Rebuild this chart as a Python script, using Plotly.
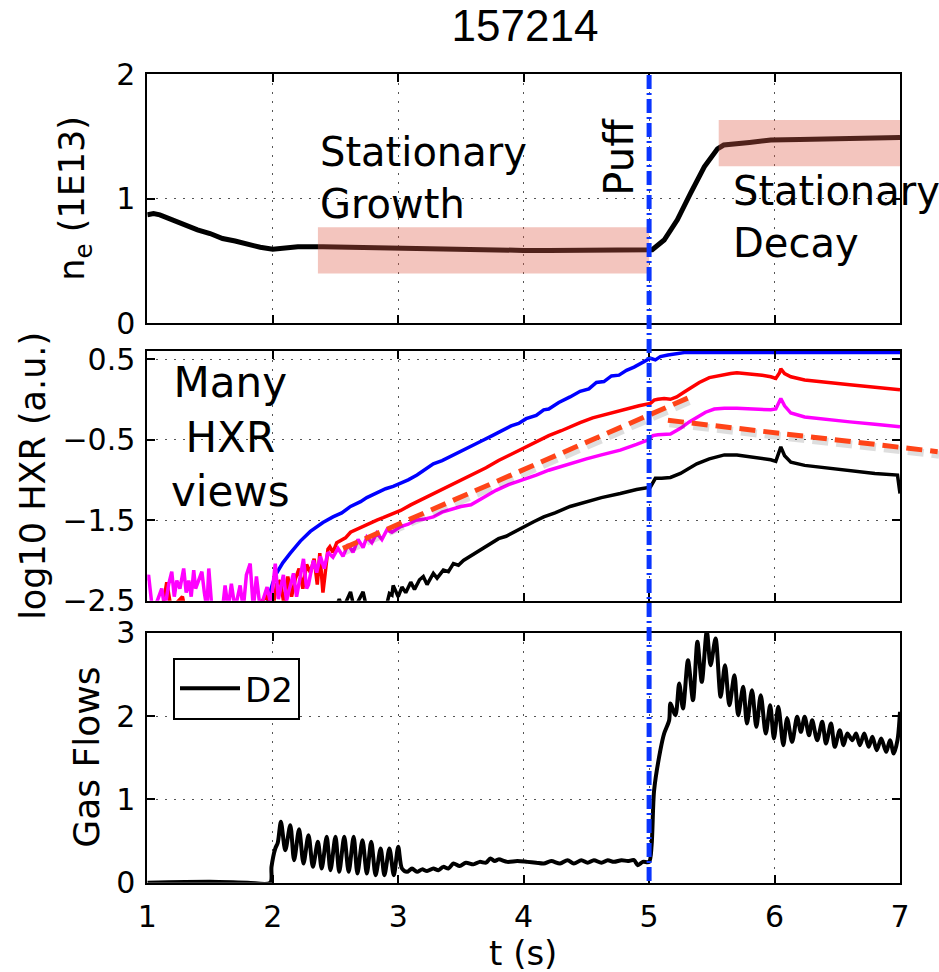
import plotly.graph_objects as go

# ---------------- data ----------------
ne_data = [(1.00, 0.87), (1.05, 0.88), (1.10, 0.87), (1.20, 0.83), (1.30, 0.78), (1.40, 0.75),
           (1.50, 0.72), (1.60, 0.68), (1.70, 0.66), (1.80, 0.63), (1.90, 0.61), (2.00, 0.595),
           (2.10, 0.61), (2.20, 0.615), (2.40, 0.615), (2.60, 0.61), (2.80, 0.605), (3.00, 0.60),
           (3.20, 0.60), (3.40, 0.595), (3.60, 0.59), (3.80, 0.585), (4.00, 0.585), (4.20, 0.585),
           (4.40, 0.585), (4.60, 0.585), (4.80, 0.58), (5.00, 0.585), (5.025, 0.59), (5.12, 0.668),
           (5.225, 0.83), (5.33, 1.043), (5.44, 1.256), (5.545, 1.40), (5.595, 1.43), (5.80, 1.45),
           (5.97, 1.47), (6.20, 1.475), (6.50, 1.484), (6.80, 1.488), (7.00, 1.49)]

hxr_blue = [(1.94, -2.6), (1.97, -2.42), (2.00, -2.28), (2.03, -2.16), (2.08, -2.03), (2.14, -1.91),
            (2.22, -1.76), (2.30, -1.64), (2.40, -1.53), (2.48, -1.46), (2.55, -1.41), (2.62, -1.33),
            (2.70, -1.27), (2.75, -1.22), (2.82, -1.17), (2.90, -1.11), (2.96, -1.08), (3.02, -1.04),
            (3.08, -1.00), (3.15, -0.94), (3.22, -0.86), (3.28, -0.80), (3.35, -0.76), (3.43, -0.70),
            (3.50, -0.64), (3.58, -0.59), (3.66, -0.52), (3.75, -0.45), (3.83, -0.39), (3.90, -0.33),
            (3.96, -0.30), (4.02, -0.24), (4.10, -0.20), (4.16, -0.13), (4.20, -0.12), (4.28, -0.04),
            (4.37, 0.03), (4.45, 0.10), (4.52, 0.13), (4.58, 0.21), (4.64, 0.22), (4.70, 0.29),
            (4.76, 0.30), (4.82, 0.36), (4.88, 0.40), (4.94, 0.45), (5.01, 0.51), (5.05, 0.49),
            (5.09, 0.53), (5.15, 0.55), (5.22, 0.57), (5.28, 0.58), (7.00, 0.58)]

hxr_red = [(1.00, -2.6), (1.12, -2.6), (1.155, -2.27), (1.19, -2.6), (1.28, -2.45), (1.30, -2.6),
           (1.60, -2.6), (1.85, -2.6), (1.95, -2.45), (2.00, -2.6), (2.03, -2.3), (2.06, -2.25),
           (2.09, -2.55), (2.12, -2.2), (2.15, -2.45), (2.18, -2.23), (2.21, -2.1), (2.24, -2.35),
           (2.27, -2.05), (2.30, -2.15), (2.33, -1.98), (2.355, -2.3), (2.375, -1.91), (2.40, -2.4),
           (2.415, -2.2), (2.44, -1.86), (2.455, -1.83), (2.48, -1.9), (2.51, -1.78), (2.55, -1.75),
           (2.58, -1.72), (2.62, -1.65), (2.66, -1.62), (2.70, -1.60), (2.74, -1.56), (2.78, -1.54),
           (2.83, -1.50), (2.88, -1.47), (2.94, -1.43), (3.02, -1.38), (3.10, -1.31), (3.18, -1.25),
           (3.28, -1.17), (3.38, -1.10), (3.48, -1.02), (3.58, -0.95), (3.70, -0.85), (3.80, -0.76),
           (3.90, -0.68), (4.00, -0.61), (4.10, -0.53), (4.20, -0.45), (4.30, -0.39), (4.37, -0.34),
           (4.45, -0.29), (4.55, -0.23), (4.69, -0.17), (4.80, -0.13), (4.92, -0.08), (5.01, -0.05),
           (5.04, -0.01), (5.07, 0.00), (5.12, 0.01), (5.17, 0.00), (5.22, 0.03), (5.28, 0.09),
           (5.33, 0.14), (5.40, 0.21), (5.48, 0.27), (5.57, 0.30), (5.65, 0.32), (5.70, 0.33),
           (5.80, 0.32), (5.90, 0.30), (5.97, 0.28), (6.01, 0.26), (6.04, 0.33), (6.05, 0.38),
           (6.08, 0.32), (6.13, 0.28), (6.24, 0.24), (6.40, 0.21), (6.60, 0.18), (6.80, 0.15),
           (7.00, 0.12)]

hxr_magenta = [(1.00, -2.25), (1.01, -2.18), (1.04, -2.6), (1.08, -2.5), (1.115, -2.35), (1.14, -2.6),
               (1.17, -2.3), (1.195, -2.14), (1.215, -2.45), (1.235, -2.25), (1.26, -2.35), (1.29, -2.10),
               (1.31, -2.4), (1.33, -2.25), (1.35, -2.45), (1.37, -2.12), (1.385, -2.35), (1.42, -2.2),
               (1.435, -2.14), (1.455, -2.4), (1.475, -2.6), (1.49, -2.10), (1.515, -2.6), (1.60, -2.6),
               (1.62, -2.31), (1.645, -2.6), (1.67, -2.29), (1.70, -2.6), (1.74, -2.31), (1.765, -2.6),
               (1.79, -2.18), (1.82, -2.04), (1.845, -2.6), (1.87, -2.2), (1.90, -2.6), (1.93, -2.45),
               (1.955, -2.33), (1.985, -2.55), (2.02, -2.04), (2.045, -2.48), (2.065, -2.3), (2.085, -2.18),
               (2.11, -2.5), (2.14, -2.3), (2.165, -2.16), (2.19, -2.45), (2.22, -2.2), (2.245, -1.98),
               (2.27, -2.35), (2.285, -2.3), (2.31, -2.1), (2.325, -2.0), (2.35, -2.15), (2.38, -1.95),
               (2.41, -2.1), (2.44, -1.9), (2.48, -1.96), (2.52, -1.85), (2.56, -1.95), (2.60, -1.80),
               (2.64, -1.90), (2.68, -1.74), (2.72, -1.84), (2.75, -1.71), (2.79, -1.78), (2.83, -1.66),
               (2.87, -1.74), (2.91, -1.62), (2.95, -1.65), (3.02, -1.58), (3.08, -1.55), (3.14, -1.50),
               (3.20, -1.49), (3.28, -1.46), (3.35, -1.40), (3.42, -1.37), (3.50, -1.33), (3.58, -1.31),
               (3.68, -1.22), (3.78, -1.13), (3.88, -1.06), (4.00, -1.00), (4.10, -0.94), (4.20, -0.88),
               (4.30, -0.83), (4.37, -0.80), (4.50, -0.74), (4.62, -0.69), (4.77, -0.63), (4.90, -0.56),
               (5.00, -0.50), (5.03, -0.45), (5.07, -0.44), (5.17, -0.43), (5.25, -0.36), (5.32, -0.28),
               (5.38, -0.22), (5.45, -0.16), (5.52, -0.12), (5.60, -0.11), (5.70, -0.11), (5.80, -0.12),
               (5.90, -0.13), (5.97, -0.13), (6.01, -0.12), (6.03, -0.05), (6.05, 0.01), (6.08, -0.08),
               (6.13, -0.17), (6.24, -0.22), (6.40, -0.25), (6.60, -0.28), (6.80, -0.31), (7.00, -0.34)]

hxr_black = [(2.45, -2.6), (2.50, -2.6), (2.53, -2.48), (2.56, -2.6), (2.62, -2.39), (2.65, -2.6),
             (2.72, -2.39), (2.75, -2.6), (2.90, -2.6), (2.93, -2.41), (2.95, -2.43), (2.96, -2.31),
             (3.00, -2.45), (3.03, -2.33), (3.06, -2.4), (3.10, -2.27), (3.13, -2.36), (3.17, -2.24),
             (3.20, -2.20), (3.23, -2.3), (3.28, -2.16), (3.31, -2.22), (3.36, -2.12), (3.40, -2.14),
             (3.44, -2.04), (3.48, -2.06), (3.52, -2.00), (3.58, -1.94), (3.65, -1.87), (3.72, -1.80),
             (3.80, -1.73), (3.86, -1.70), (3.93, -1.64), (4.00, -1.58), (4.08, -1.52), (4.16, -1.46),
             (4.25, -1.41), (4.37, -1.33), (4.50, -1.27), (4.62, -1.22), (4.77, -1.17), (4.90, -1.12),
             (5.01, -1.09), (5.05, -0.98), (5.10, -0.98), (5.17, -0.97), (5.25, -0.92), (5.32, -0.85),
             (5.38, -0.80), (5.48, -0.74), (5.60, -0.69), (5.70, -0.69), (5.80, -0.71), (5.90, -0.73),
             (5.97, -0.75), (6.01, -0.77), (6.03, -0.68), (6.05, -0.59), (6.08, -0.70), (6.13, -0.78),
             (6.24, -0.82), (6.40, -0.85), (6.60, -0.89), (6.80, -0.92), (6.98, -0.94), (7.00, -1.17)]

gas_d2 = [(1.00, 0.0), (1.50, 0.01), (1.80, 0.0), (1.98, 0.0), (1.99, 0.19), (2.02, 0.41), (2.04, 0.48),
          (2.065, 0.73), (2.10, 0.39), (2.14, 0.69), (2.17, 0.27), (2.21, 0.64), (2.245, 0.23),
          (2.285, 0.57), (2.32, 0.19), (2.36, 0.49), (2.39, 0.17), (2.43, 0.55), (2.46, 0.15),
          (2.50, 0.55), (2.53, 0.13), (2.57, 0.55), (2.605, 0.13), (2.645, 0.55), (2.675, 0.11),
          (2.715, 0.51), (2.75, 0.11), (2.785, 0.49), (2.82, 0.09), (2.86, 0.41), (2.89, 0.09),
          (2.93, 0.41), (2.965, 0.09), (3.00, 0.43), (3.03, 0.17), (3.07, 0.13), (3.11, 0.17),
          (3.15, 0.13), (3.19, 0.16), (3.23, 0.14), (3.28, 0.17), (3.32, 0.15), (3.36, 0.19),
          (3.40, 0.17), (3.44, 0.23), (3.49, 0.20), (3.54, 0.24), (3.60, 0.22), (3.65, 0.25),
          (3.70, 0.24), (3.735, 0.29), (3.77, 0.26), (3.80, 0.28), (3.87, 0.25), (3.95, 0.26),
          (4.03, 0.25), (4.10, 0.24), (4.16, 0.23), (4.22, 0.26), (4.29, 0.23), (4.35, 0.27),
          (4.40, 0.23), (4.46, 0.27), (4.51, 0.24), (4.56, 0.27), (4.62, 0.24), (4.67, 0.27),
          (4.72, 0.25), (4.78, 0.27), (4.83, 0.26), (4.88, 0.27), (4.91, 0.21), (4.95, 0.25),
          (5.00, 0.25), (5.02, 0.45), (5.04, 1.11), (5.09, 1.59), (5.12, 1.79), (5.16, 1.95),
          (5.17, 2.15), (5.21, 2.01), (5.24, 2.39), (5.27, 2.09), (5.31, 2.67), (5.35, 2.19),
          (5.385, 2.89), (5.42, 2.41), (5.46, 3.02), (5.49, 2.61), (5.53, 2.93), (5.57, 2.23),
          (5.605, 2.61), (5.64, 2.13), (5.68, 2.49), (5.71, 2.01), (5.75, 2.35), (5.78, 1.91),
          (5.82, 2.31), (5.855, 1.87), (5.89, 2.25), (5.93, 1.79), (5.965, 2.13), (5.995, 1.73),
          (6.03, 2.11), (6.07, 1.65), (6.10, 1.97), (6.14, 1.69), (6.18, 1.99), (6.21, 1.81),
          (6.24, 1.99), (6.275, 1.77), (6.30, 1.95), (6.34, 1.71), (6.38, 1.93), (6.41, 1.67),
          (6.45, 1.91), (6.48, 1.63), (6.52, 1.83), (6.55, 1.65), (6.58, 1.79), (6.62, 1.71),
          (6.65, 1.79), (6.68, 1.65), (6.715, 1.79), (6.75, 1.63), (6.78, 1.75), (6.815, 1.59),
          (6.85, 1.73), (6.89, 1.57), (6.92, 1.71), (6.95, 1.55), (6.98, 1.71), (7.00, 2.05)]

x_ticks = [1, 2, 3, 4, 5, 6, 7]
ne_ticks = [0, 1, 2]
hxr_ticks = [-2.5, -1.5, -0.5, 0.5]
gas_ticks = [0, 1, 2, 3]

puff_time = 5.0
growth_window = dict(t0=2.36, t1=5.0, v0=0.40, v1=0.77)
decay_window = dict(t0=5.555, t1=7.0, v0=1.26, v1=1.63)
growth_trend = [(2.56, -1.85), (5.33, 0.03)]
decay_trend = [(5.15, -0.26), (7.30, -0.65)]

# ---------------- layout geometry ----------------
W, H = 939, 972
XDOM = [147.3 / W, 900.0 / W]
Y1DOM = [1 - 323.3 / H, 1 - 74.0 / H]
Y2DOM = [1 - 600.7 / H, 1 - 351.0 / H]
Y3DOM = [1 - 882.7 / H, 1 - 632.7 / H]
XR = [1, 7]
Y1R = [0, 2]
Y2R = [-2.5, 0.6]
Y3R = [0, 3]


def px(t):
    return XDOM[0] + (t - XR[0]) / (XR[1] - XR[0]) * (XDOM[1] - XDOM[0])


def py2(v):
    return Y2DOM[0] + (v - Y2R[0]) / (Y2R[1] - Y2R[0]) * (Y2DOM[1] - Y2DOM[0])


def split(pairs):
    return [p[0] for p in pairs], [p[1] for p in pairs]


FONT = "DejaVu Sans"
fig = go.Figure()

t, v = split(ne_data)
fig.add_trace(go.Scatter(x=t, y=v, mode="lines", line=dict(color="black", width=5),
                         xaxis="x", yaxis="y", showlegend=False))

for pairs, col in [(hxr_blue, "#0000FF"), (hxr_red, "#FF0000"),
                   (hxr_magenta, "#FF00FF"), (hxr_black, "#000000")]:
    t, v = split(pairs)
    fig.add_trace(go.Scatter(x=t, y=v, mode="lines", line=dict(color=col, width=3.5),
                             xaxis="x2", yaxis="y2", showlegend=False))

t, v = split(gas_d2)
fig.add_trace(go.Scatter(x=t, y=v, mode="lines", name="D2",
                         line=dict(color="black", width=4, shape="spline", smoothing=0.8),
                         xaxis="x3", yaxis="y3", showlegend=True))

axis_common = dict(showline=True, linecolor="black", linewidth=2, mirror="ticks",
                   ticks="inside", ticklen=8, tickwidth=1.5, tickcolor="black",
                   showgrid=True, gridcolor="#555555", gridwidth=1, griddash="2px,7px",
                   zeroline=False, automargin=False,
                   tickfont=dict(family=FONT, size=30, color="black"))

layout = dict(
    template="none",
    width=W, height=H, autosize=False,
    margin=dict(l=0, r=0, t=0, b=0, pad=0, autoexpand=False),
    paper_bgcolor="white", plot_bgcolor="white",
    title=dict(text="157214", x=525 / W, xanchor="center", y=1 - 26 / H, yanchor="middle",
               font=dict(family="Liberation Sans", size=44, color="black")),
    xaxis=dict(domain=XDOM, range=XR, tickvals=x_ticks, showticklabels=False, anchor="y", **axis_common),
    yaxis=dict(domain=Y1DOM, range=Y1R, tickvals=ne_ticks, anchor="x", ticklabelstandoff=4, **axis_common),
    xaxis2=dict(domain=XDOM, range=XR, tickvals=x_ticks, showticklabels=False, anchor="y2", **axis_common),
    yaxis2=dict(domain=Y2DOM, range=Y2R, tickvals=hxr_ticks, anchor="x2", ticklabelstandoff=4, **axis_common),
    xaxis3=dict(domain=XDOM, range=XR, tickvals=x_ticks, anchor="y3", ticklabelstandoff=6, **axis_common),
    yaxis3=dict(domain=Y3DOM, range=Y3R, tickvals=gas_ticks, anchor="x3", ticklabelstandoff=4, **axis_common),
    legend=dict(x=173 / W, y=1 - 657.7 / H, xanchor="left", yanchor="top",
                bgcolor="white", bordercolor="black", borderwidth=2,
                font=dict(family=FONT, size=34, color="black"), itemwidth=60),
)
fig.update_layout(**layout)

shapes = []
fill = "rgba(222,95,75,0.36)"
for w in (growth_window, decay_window):
    shapes.append(dict(type="rect", xref="x", yref="y", x0=w["t0"], x1=w["t1"], y0=w["v0"], y1=w["v1"],
                       fillcolor=fill, line=dict(width=0), layer="above"))

# trend lines (with soft shadow), drawn in paper coordinates from data values
for seg in (growth_trend, decay_trend):
    (ta, va), (tb, vb) = seg
    shapes.append(dict(type="line", xref="paper", yref="paper",
                       x0=px(ta) + 1.5 / W, y0=py2(va) - 3 / H, x1=px(tb) + 1.5 / W, y1=py2(vb) - 3 / H,
                       line=dict(color="rgba(0,0,0,0.13)", width=8, dash="16px,8px"), layer="above"))
    shapes.append(dict(type="line", xref="paper", yref="paper",
                       x0=px(ta), y0=py2(va), x1=px(tb), y1=py2(vb),
                       line=dict(color="#FF4418", width=5, dash="16px,8px"), layer="above"))

# puff marker across all panels
shapes.append(dict(type="line", xref="paper", yref="paper", x0=px(puff_time), x1=px(puff_time),
                   y0=1 - 881 / H, y1=Y1DOM[1],
                   line=dict(color="#0A35FF", width=5, dash="14px,4px,2px,4px"), layer="above"))
fig.update_layout(shapes=shapes)

ann_font = dict(family=FONT, size=40, color="black")
annotations = [
    dict(text="Stationary<br>Growth", x=growth_window["t0"], y=1.166, xref="x", yref="y",
         xanchor="left", yanchor="middle", align="left", showarrow=False, font=ann_font),
    dict(text="Stationary<br>Decay", x=5.65, y=0.853, xref="x", yref="y",
         xanchor="left", yanchor="middle", align="left", showarrow=False, font=ann_font),
    dict(text="Puff", x=4.757, y=1.334, xref="x", yref="y", textangle=-90,
         xanchor="center", yanchor="middle", showarrow=False, font=ann_font),
    dict(text="Many<br>HXR<br>views", x=1.66, y=-0.47, xref="x2", yref="y2",
         xanchor="center", yanchor="middle", align="center", showarrow=False,
         font=dict(family=FONT, size=42, color="black")),
    dict(text="n<sub>e</sub> (1E13)", x=75 / W, y=(Y1DOM[0] + Y1DOM[1]) / 2, xref="paper", yref="paper",
         textangle=-90, xanchor="center", yanchor="middle", showarrow=False,
         font=dict(family=FONT, size=35, color="black")),
    dict(text="log10 HXR (a.u.)", x=33 / W, y=(Y2DOM[0] + Y2DOM[1]) / 2, xref="paper", yref="paper",
         textangle=-90, xanchor="center", yanchor="middle", showarrow=False,
         font=dict(family=FONT, size=35, color="black")),
    dict(text="Gas Flows", x=87 / W, y=(Y3DOM[0] + Y3DOM[1]) / 2, xref="paper", yref="paper",
         textangle=-90, xanchor="center", yanchor="middle", showarrow=False,
         font=dict(family=FONT, size=36, color="black")),
    dict(text="t (s)", x=523 / W, y=1 - 953 / H, xref="paper", yref="paper",
         xanchor="center", yanchor="middle", showarrow=False,
         font=dict(family=FONT, size=34, color="black")),
]
fig.update_layout(annotations=annotations)

fig.write_html("out.html")
